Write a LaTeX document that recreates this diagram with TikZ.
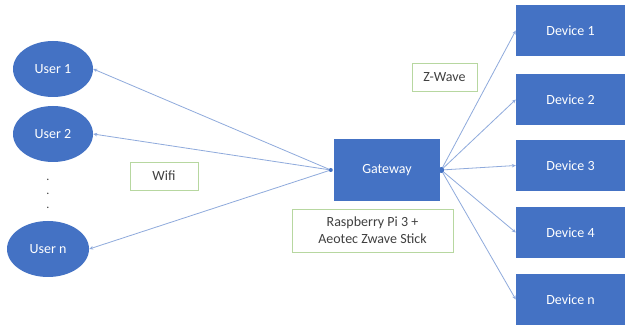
\documentclass[tikz,border=0pt]{standalone}
\usepackage{fontspec}
\setmainfont{Carlito}
\usetikzlibrary{arrows.meta,shapes.geometric}
\definecolor{nodeblue}{HTML}{4472C4}
\definecolor{lineblue}{HTML}{8FAADC}
\definecolor{boxgreen}{HTML}{B7D7A0}
\definecolor{txtgray}{HTML}{404040}
\begin{document}
\begin{tikzpicture}[x=1pt,y=-1pt,
  user/.style={ellipse,fill=nodeblue,draw=none,minimum width=80pt,minimum height=56pt,text=white,font=\fontsize{14}{16}\selectfont,inner sep=0pt},
  device/.style={rectangle,fill=nodeblue,draw=none,minimum width=109pt,minimum height=51pt,text=white,font=\fontsize{14}{16}\selectfont,inner sep=0pt},
  gw/.style={rectangle,fill=nodeblue,draw=none,minimum width=106pt,minimum height=62pt,text=white,font=\fontsize{14}{16}\selectfont,inner sep=0pt},
  lbl/.style={rectangle,draw=boxgreen,line width=0.9pt,fill=white,text=txtgray,font=\fontsize{14}{17}\selectfont,inner sep=0pt,align=center},
  conn/.style={draw=lineblue,line width=0.8pt,-{Stealth[length=4pt,width=3.5pt]}},
  dotc/.style={circle,fill=nodeblue,inner sep=0pt,minimum size=4pt}
]
\useasboundingbox (0,0) rectangle (625,326);
\fill[white] (0,0) rectangle (625,326);

\node[user] (u1) at (53,69) {User 1};
\node[user] (u2) at (53,134) {User 2};
\node[user,minimum width=82pt] (un) at (48,249) {User n};

\node[font=\fontsize{12}{12}\selectfont,text=txtgray] (d1) at (48,180) {.};
\node[font=\fontsize{12}{12}\selectfont,text=txtgray] (d2) at (48,194) {.};
\node[font=\fontsize{12}{12}\selectfont,text=txtgray] (d3) at (48,208) {.};

\node[gw] (gw) at (387,170) {Gateway};

\node[device] (v1) at (570.5,30.5) {Device 1};
\node[device] (v2) at (570.5,99.5) {Device 2};
\node[device] (v3) at (570.5,165.5) {Device 3};
\node[device] (v4) at (570.5,232.5) {Device 4};
\node[device] (vn) at (570.5,299.5) {Device n};

\node[lbl,minimum width=68pt,minimum height=28pt] (wifi) at (164,176) {Wifi};
\node[lbl,minimum width=65pt,minimum height=28pt] (zw) at (444.5,77) {Z-Wave};
\node[lbl,minimum width=161pt,minimum height=43pt] (rpi) at (372.5,230.5) {Raspberry Pi 3 +\\Aeotec Zwave Stick};

\coordinate (gl) at ([xshift=-3pt]gw.west);
\coordinate (gr) at ([xshift=1pt]gw.east);

\draw[conn] (gl) -- (u1.east);
\draw[conn] (gl) -- (u2.east);
\draw[conn] (gl) -- (un.east);

\draw[conn] (gr) -- (v1.west);
\draw[conn] (gr) -- (v2.west);
\draw[conn] (gr) -- (v3.west);
\draw[conn] (gr) -- (v4.west);
\draw[conn] (gr) -- (vn.west);

\node[dotc] (gldot) at (gl) {};
\node[dotc,minimum size=6pt] (grdot) at (gr) {};
\end{tikzpicture}
\end{document}
